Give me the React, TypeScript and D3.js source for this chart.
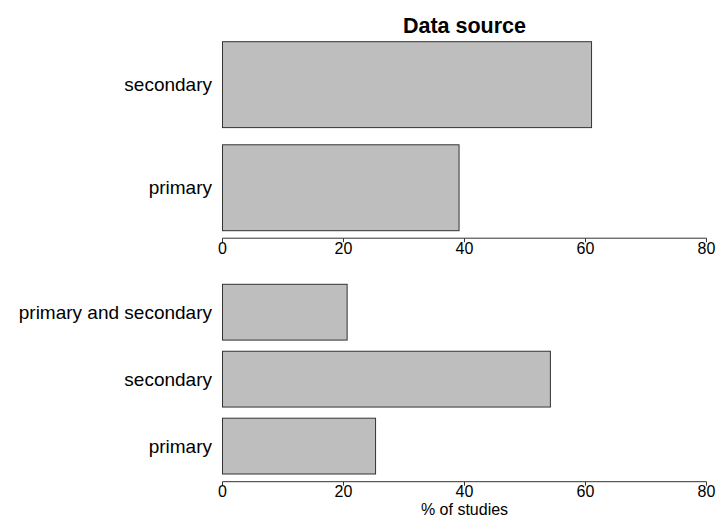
import React from "react";
import * as d3 from "d3";

const topCategories = ["secondary", "primary"];
const topValues = [61.0, 39.1];
const bottomCategories = ["primary and secondary", "secondary", "primary"];
const bottomValues = [20.6, 54.2, 25.3];
const tickValues = [0, 20, 40, 60, 80];
const title = "Data source";
const xLabel = "% of studies";

const FONT = "'Liberation Sans', Arial, Helvetica, sans-serif";

export default function App() {
  const W = 717;
  const H = 518;
  const x = d3.scaleLinear().domain([0, 80]).range([222.5, 706.5]);

  const yTop = d3
    .scaleBand<string>()
    .domain(topCategories)
    .range([41.7, 230.7])
    .paddingInner(0.2 / 1.2)
    .paddingOuter(0);
  const yBot = d3
    .scaleBand<string>()
    .domain(bottomCategories)
    .range([284.3, 474])
    .paddingInner(0.2 / 1.2)
    .paddingOuter(0);

  const renderPanel = (
    cats: string[],
    vals: number[],
    y: d3.ScaleBand<string>,
    axisY: number,
    key: string
  ) => (
    <g key={key}>
      {cats.map((c, i) => (
        <g key={c}>
          <rect
            x={x(0)}
            y={y(c)!}
            width={x(vals[i]) - x(0)}
            height={y.bandwidth()}
            fill="#bebebe"
            stroke="#333333"
            strokeWidth={1}
          />
          <text
            x={212}
            y={y(c)! + y.bandwidth() / 2}
            textAnchor="end"
            dominantBaseline="central"
            fontSize={19}
            fontFamily={FONT}
            fill="#000"
          >
            {c}
          </text>
        </g>
      ))}
      <line
        x1={x(0)}
        x2={x(80)}
        y1={axisY}
        y2={axisY}
        stroke="#333"
        strokeWidth={1}
      />
      {tickValues.map((t) => (
        <g key={t}>
          <line
            x1={x(t)}
            x2={x(t)}
            y1={axisY}
            y2={axisY + 4}
            stroke="#333"
            strokeWidth={1}
          />
          <text
            x={x(t)}
            y={axisY + 15.5}
            textAnchor="middle"
            fontSize={16}
            fontFamily={FONT}
            fill="#000"
          >
            {t}
          </text>
        </g>
      ))}
    </g>
  );

  return (
    <svg
      width={W}
      height={H}
      style={{ position: "absolute", left: 0, top: 0, display: "block" }}
    >
      <rect x={0} y={0} width={W} height={H} fill="#fff" />
      <text
        x={(x(0) + x(80)) / 2}
        y={32.7}
        textAnchor="middle"
        fontSize={21.5}
        fontWeight="bold"
        fontFamily={FONT}
        fill="#000"
      >
        {title}
      </text>
      {renderPanel(topCategories, topValues, yTop, 238.2, "top")}
      {renderPanel(bottomCategories, bottomValues, yBot, 481.7, "bot")}
      <text
        x={(x(0) + x(80)) / 2}
        y={515}
        textAnchor="middle"
        fontSize={16}
        fontFamily={FONT}
        fill="#000"
      >
        {xLabel}
      </text>
    </svg>
  );
}
